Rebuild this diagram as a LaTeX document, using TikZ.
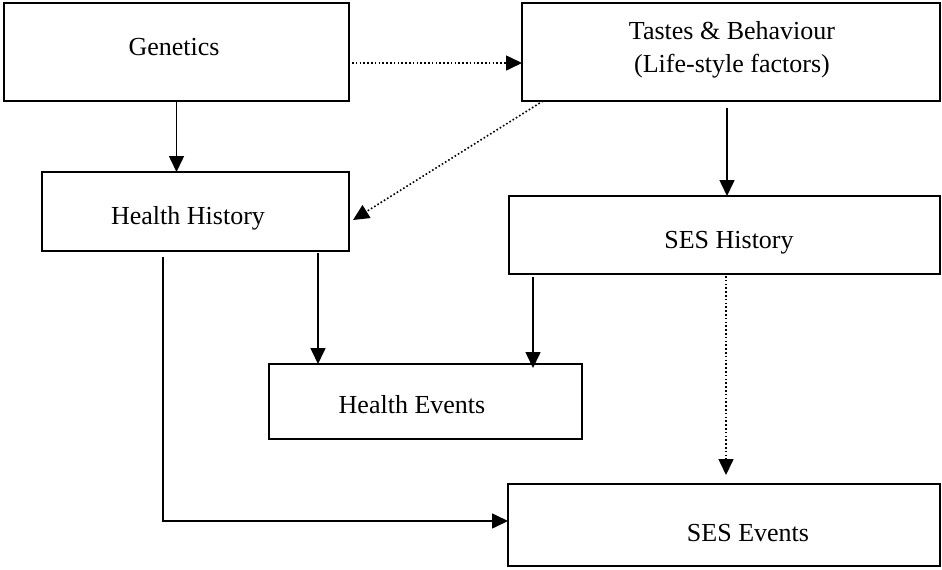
\documentclass[tikz,border=0pt]{standalone}
\usepackage{fontspec}
\setmainfont{Liberation Serif}
\usetikzlibrary{arrows.meta}
\begin{document}
\begin{tikzpicture}[x=1pt,y=-1pt,
  box/.style={draw, line width=1.9pt, inner sep=0pt, outer sep=0pt},
  lbl/.style={inner sep=0pt, anchor=base, font=\fontsize{26pt}{33pt}\selectfont},
  arr/.style={line width=1.6pt, -{Triangle[length=16pt,width=15pt]}},
  dotline/.style={dash pattern=on 1.6pt off 2.2pt}]
\useasboundingbox (0,0) rectangle (942,570);
% boxes
\node[box, minimum width=345pt, minimum height=98pt] (gen) at (176.5,52) {};
\node[box, minimum width=418pt, minimum height=98pt] (tb) at (731,52) {};
\node[box, minimum width=307pt, minimum height=79pt] (hh) at (195.5,211.5) {};
\node[box, minimum width=431pt, minimum height=78pt] (sh) at (724.5,235) {};
\node[box, minimum width=313pt, minimum height=75pt] (he) at (425.5,401.5) {};
\node[box, minimum width=432pt, minimum height=82pt] (se) at (724,525) {};
% labels
\node[lbl] (tgen) at (174,55) {Genetics};
\node[lbl, align=center] (ttb) at (732,72) {Tastes \& Behaviour\\(Life-style factors)};
\node[lbl] (thh) at (188,224) {Health History};
\node[lbl] (tsh) at (729,248) {SES History};
\node[lbl] (the) at (412,413) {Health Events};
\node[lbl] (tse) at (748,541) {SES Events};
% connectors
\draw[arr] (gen.south) -- (gen.south |- hh.north);
\draw[arr, dotline] ([shift={(3,11)}]gen.east) -- ([shift={(0,11)}]tb.west);
\draw[arr, dotline] ([shift={(21,0)}]tb.south west) -- ([shift={(4,8.5)}]hh.east);
\draw[arr] ([shift={(-4,7)}]tb.south) -- ([shift={(2.5,0)}]sh.north);
\draw[arr] ([shift={(122.5,2)}]hh.south) -- ([shift={(49,0)}]he.north west);
\draw[arr] ([shift={(24,3)}]sh.south west) -- ([shift={(264,4)}]he.north west);
\draw[arr, dotline] ([shift={(217,2)}]sh.south west) -- ([shift={(218,-9)}]se.north west);
\draw[arr] ([shift={(121,6)}]hh.south west) |- ([shift={(0,-4)}]se.west);
\end{tikzpicture}
\end{document}
